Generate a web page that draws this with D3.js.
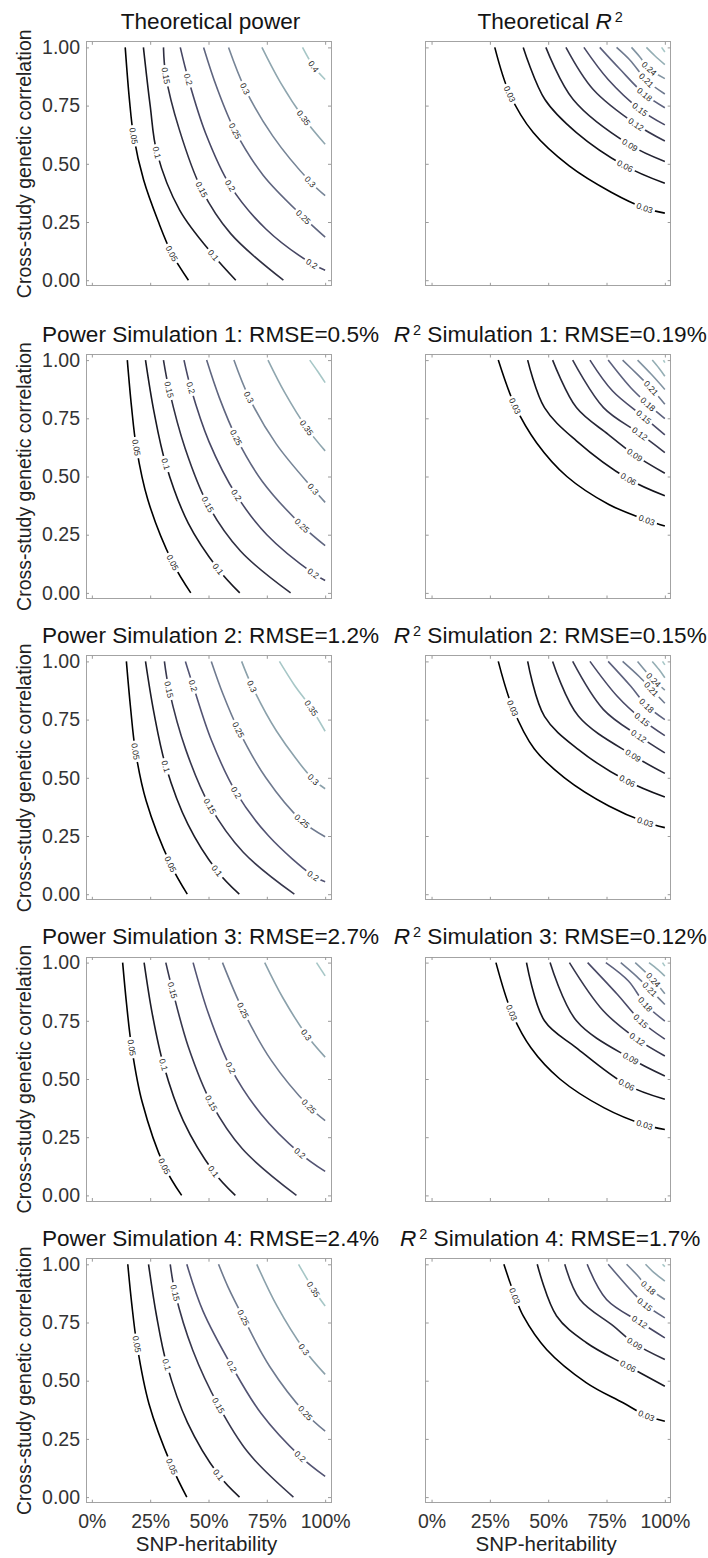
<!DOCTYPE html>
<html><head><meta charset="utf-8">
<script src="https://cdn.jsdelivr.net/npm/d3@7"></script>
<style>
body{margin:0;background:#fff}
text{font-family:"Liberation Sans",Arial,Helvetica,sans-serif;white-space:pre}
</style>
</head><body>
<svg id="chart" width="708" height="1558"></svg>
<script>
// ---------------- data ----------------
const h2Ticks = [0, 0.25, 0.5, 0.75, 1];
const h2TickLabels = ["0%", "25%", "50%", "75%", "100%"];
const rgTicks = [0, 0.25, 0.5, 0.75, 1];
const rgTickLabels = ["0.00", "0.25", "0.50", "0.75", "1.00"];
const xAxisTitle = "SNP-heritability";
const yAxisTitle = "Cross-study genetic correlation";
const powerTitles = ["Theoretical power", "Power Simulation 1: RMSE=0.5%", "Power Simulation 2: RMSE=1.2%",
  "Power Simulation 3: RMSE=2.7%", "Power Simulation 4: RMSE=2.4%"];
const r2Titles = ["Theoretical R^2", "R^2 Simulation 1: RMSE=0.19%", "R^2 Simulation 2: RMSE=0.15%",
  "R^2 Simulation 3: RMSE=0.12%", "R^2 Simulation 4: RMSE=1.7%"];

// contour lines: level, points [h2, rg] along the line, label anchors [h2, rg]
const powerTheory = [
  {level:0.05, pts:[[0.143,1],[0.161,0.776],[0.179,0.62],[0.222,0.43],[0.284,0.254],[0.343,0.114],[0.414,0]], lab:[[0.179,0.62],[0.343,0.114]]},
  {level:0.1, pts:[[0.221,1],[0.25,0.75],[0.279,0.548],[0.377,0.3],[0.521,0.107],[0.617,0]], lab:[[0.279,0.548],[0.521,0.107]]},
  {level:0.15, pts:[[0.307,1],[0.317,0.879],[0.374,0.65],[0.471,0.389],[0.595,0.2],[0.821,0]], lab:[[0.317,0.879],[0.471,0.389]]},
  {level:0.2, pts:[[0.379,1],[0.414,0.862],[0.488,0.63],[0.593,0.406],[0.746,0.22],[0.943,0.071],[1,0.043]], lab:[[0.414,0.862],[0.593,0.406],[0.943,0.071]]},
  {level:0.25, pts:[[0.479,1],[0.535,0.83],[0.614,0.641],[0.735,0.45],[0.907,0.271],[1,0.185]], lab:[[0.614,0.641],[0.907,0.271]]},
  {level:0.3, pts:[[0.586,1],[0.657,0.822],[0.775,0.62],[0.936,0.423],[1,0.363]], lab:[[0.657,0.822],[0.936,0.423]]},
  {level:0.35, pts:[[0.729,1],[0.808,0.85],[0.907,0.698],[1,0.584]], lab:[[0.907,0.698]]},
  {level:0.4, pts:[[0.903,1],[0.95,0.919],[1,0.862]], lab:[[0.95,0.919]]}
];
const powerSim1 = [
  {level:0.05, pts:[[0.152,1],[0.17,0.8],[0.191,0.624],[0.24,0.4],[0.346,0.131],[0.424,0]], lab:[[0.191,0.624],[0.346,0.131]]},
  {level:0.1, pts:[[0.23,1],[0.266,0.78],[0.317,0.553],[0.413,0.3],[0.541,0.103],[0.634,0]], lab:[[0.317,0.553],[0.541,0.103]]},
  {level:0.15, pts:[[0.307,1],[0.331,0.874],[0.4,0.62],[0.497,0.38],[0.637,0.18],[0.852,0]], lab:[[0.331,0.874],[0.497,0.38]]},
  {level:0.2, pts:[[0.395,1],[0.424,0.881],[0.502,0.65],[0.619,0.421],[0.75,0.25],[0.949,0.084],[1,0.053]], lab:[[0.424,0.881],[0.619,0.421],[0.949,0.084]]},
  {level:0.25, pts:[[0.492,1],[0.546,0.84],[0.619,0.667],[0.73,0.48],[0.901,0.289],[1,0.203]], lab:[[0.619,0.667],[0.901,0.289]]},
  {level:0.3, pts:[[0.609,1],[0.673,0.841],[0.79,0.64],[0.949,0.446],[1,0.389]], lab:[[0.673,0.841],[0.949,0.446]]},
  {level:0.35, pts:[[0.755,1],[0.827,0.86],[0.92,0.71],[1,0.61]], lab:[[0.92,0.71]]},
  {level:0.4, pts:[[0.934,1],[0.967,0.953],[1,0.903]], lab:[]}
];
const powerSim2 = [
  {level:0.05, pts:[[0.148,1],[0.166,0.8],[0.187,0.614],[0.233,0.4],[0.337,0.129],[0.409,0]], lab:[[0.187,0.614],[0.337,0.129]]},
  {level:0.1, pts:[[0.23,1],[0.266,0.78],[0.317,0.55],[0.412,0.3],[0.537,0.1],[0.632,0]], lab:[[0.317,0.55],[0.537,0.1]]},
  {level:0.15, pts:[[0.311,1],[0.331,0.879],[0.403,0.62],[0.506,0.379],[0.649,0.18],[0.868,0]], lab:[[0.331,0.879],[0.506,0.379]]},
  {level:0.2, pts:[[0.401,1],[0.434,0.896],[0.513,0.66],[0.619,0.436],[0.758,0.25],[0.949,0.079],[1,0.053]], lab:[[0.434,0.896],[0.619,0.436],[0.949,0.079]]},
  {level:0.25, pts:[[0.512,1],[0.562,0.86],[0.628,0.707],[0.746,0.5],[0.901,0.314],[1,0.247]], lab:[[0.628,0.707],[0.901,0.314]]},
  {level:0.3, pts:[[0.642,1],[0.687,0.893],[0.792,0.7],[0.949,0.493],[1,0.453]], lab:[[0.687,0.893],[0.949,0.493]]},
  {level:0.35, pts:[[0.804,1],[0.867,0.9],[0.94,0.8],[1,0.7]], lab:[[0.94,0.8]]}
];
const powerSim3 = [
  {level:0.05, pts:[[0.132,1],[0.149,0.82],[0.171,0.634],[0.216,0.4],[0.311,0.125],[0.385,0]], lab:[[0.171,0.634],[0.311,0.125]]},
  {level:0.1, pts:[[0.224,1],[0.259,0.78],[0.307,0.562],[0.392,0.32],[0.521,0.103],[0.615,0]], lab:[[0.307,0.562],[0.521,0.103]]},
  {level:0.15, pts:[[0.317,1],[0.346,0.881],[0.413,0.64],[0.512,0.397],[0.645,0.2],[0.877,0]], lab:[[0.346,0.881],[0.512,0.397]]},
  {level:0.2, pts:[[0.434,1],[0.5,0.78],[0.595,0.548],[0.725,0.35],[0.891,0.182],[1,0.103]], lab:[[0.595,0.548],[0.891,0.182]]},
  {level:0.25, pts:[[0.56,1],[0.648,0.795],[0.769,0.58],[0.93,0.383],[1,0.321]], lab:[[0.648,0.795],[0.93,0.383]]},
  {level:0.3, pts:[[0.741,1],[0.818,0.85],[0.92,0.689],[1,0.594]], lab:[[0.92,0.689]]},
  {level:0.35, pts:[[0.963,1],[1,0.943]], lab:[]}
];
const powerSim4 = [
  {level:0.05, pts:[[0.154,1],[0.171,0.83],[0.193,0.656],[0.245,0.4],[0.343,0.132],[0.407,0]], lab:[[0.193,0.656],[0.343,0.132]]},
  {level:0.1, pts:[[0.243,1],[0.277,0.78],[0.321,0.57],[0.41,0.32],[0.543,0.096],[0.633,0]], lab:[[0.321,0.57],[0.543,0.096]]},
  {level:0.15, pts:[[0.336,1],[0.357,0.878],[0.433,0.63],[0.543,0.393],[0.671,0.19],[0.864,0]], lab:[[0.357,0.878],[0.543,0.393]]},
  {level:0.2, pts:[[0.407,1],[0.476,0.8],[0.6,0.562],[0.725,0.36],[0.893,0.175],[1,0.089]], lab:[[0.6,0.562],[0.893,0.175]]},
  {level:0.25, pts:[[0.543,1],[0.585,0.9],[0.65,0.77],[0.763,0.56],[0.914,0.362],[1,0.283]], lab:[[0.65,0.77],[0.914,0.362]]},
  {level:0.3, pts:[[0.707,1],[0.794,0.82],[0.91,0.634],[1,0.527]], lab:[[0.91,0.634]]},
  {level:0.35, pts:[[0.886,1],[0.95,0.892],[1,0.821]], lab:[[0.95,0.892]]}
];
const r2Theory = [
  {level:0.03, pts:[[0.271,1],[0.335,0.8],[0.436,0.634],[0.59,0.491],[0.77,0.378],[0.914,0.31],[1,0.288]], lab:[[0.335,0.8],[0.914,0.31]]},
  {level:0.06, pts:[[0.393,1],[0.486,0.776],[0.621,0.634],[0.829,0.491],[1,0.416]], lab:[[0.829,0.491]]},
  {level:0.09, pts:[[0.49,1],[0.607,0.776],[0.85,0.581],[1,0.51]], lab:[[0.85,0.581]]},
  {level:0.12, pts:[[0.576,1],[0.693,0.819],[0.876,0.67],[1,0.598]], lab:[[0.876,0.67]]},
  {level:0.15, pts:[[0.653,1],[0.757,0.862],[0.893,0.734],[1,0.667]], lab:[[0.893,0.734]]},
  {level:0.18, pts:[[0.721,1],[0.807,0.907],[0.914,0.798],[1,0.741]], lab:[[0.914,0.798]]},
  {level:0.21, pts:[[0.793,1],[0.853,0.943],[0.921,0.859],[1,0.8]], lab:[[0.921,0.859]]},
  {level:0.24, pts:[[0.857,1],[0.893,0.959],[0.933,0.909],[1,0.866]], lab:[[0.933,0.909]]},
  {level:0.27, pts:[[0.921,1],[0.957,0.964],[1,0.926]], lab:[]},
  {level:0.3, pts:[[0.986,1],[1,0.98]], lab:[]}
];
const r2Sim1 = [
  {level:0.03, pts:[[0.286,1],[0.358,0.803],[0.45,0.645],[0.58,0.5],[0.76,0.38],[0.922,0.313],[1,0.287]], lab:[[0.358,0.803],[0.922,0.313]]},
  {level:0.06, pts:[[0.412,1],[0.484,0.796],[0.621,0.653],[0.844,0.489],[1,0.417]], lab:[[0.844,0.489]]},
  {level:0.09, pts:[[0.519,1],[0.621,0.796],[0.757,0.681],[0.87,0.593],[1,0.514]], lab:[[0.87,0.593]]},
  {level:0.12, pts:[[0.605,1],[0.737,0.796],[0.893,0.684],[1,0.603]], lab:[[0.893,0.684]]},
  {level:0.15, pts:[[0.679,1],[0.776,0.867],[0.909,0.756],[1,0.679]], lab:[[0.909,0.756]]},
  {level:0.18, pts:[[0.757,1],[0.854,0.881],[0.928,0.81],[1,0.749]], lab:[[0.928,0.81]]},
  {level:0.21, pts:[[0.819,1],[0.89,0.931],[0.942,0.879],[1,0.81]], lab:[[0.942,0.879]]},
  {level:0.24, pts:[[0.883,1],[0.942,0.939],[1,0.874]], lab:[]},
  {level:0.27, pts:[[0.946,1],[0.975,0.965],[1,0.931]], lab:[]},
  {level:0.3, pts:[[0.994,1],[1,0.989]], lab:[]}
];
const r2Sim2 = [
  {level:0.03, pts:[[0.286,1],[0.348,0.8],[0.44,0.625],[0.57,0.5],[0.76,0.379],[0.916,0.31],[1,0.286]], lab:[[0.348,0.8],[0.916,0.31]]},
  {level:0.06, pts:[[0.412,1],[0.484,0.764],[0.63,0.621],[0.839,0.486],[1,0.417]], lab:[[0.839,0.486]]},
  {level:0.09, pts:[[0.519,1],[0.63,0.764],[0.864,0.596],[1,0.519]], lab:[[0.864,0.596]]},
  {level:0.12, pts:[[0.605,1],[0.737,0.793],[0.889,0.679],[1,0.607]], lab:[[0.889,0.679]]},
  {level:0.15, pts:[[0.679,1],[0.796,0.85],[0.903,0.75],[1,0.681]], lab:[[0.903,0.75]]},
  {level:0.18, pts:[[0.757,1],[0.854,0.893],[0.922,0.81],[1,0.75]], lab:[[0.922,0.81]]},
  {level:0.21, pts:[[0.819,1],[0.89,0.935],[0.942,0.881],[1,0.82]], lab:[[0.942,0.881]]},
  {level:0.24, pts:[[0.883,1],[0.951,0.921],[1,0.877]], lab:[[0.951,0.921]]},
  {level:0.27, pts:[[0.946,1],[0.975,0.965],[1,0.93]], lab:[]},
  {level:0.3, pts:[[0.99,1],[1,0.985]], lab:[]}
];
const r2Sim3 = [
  {level:0.03, pts:[[0.276,1],[0.344,0.785],[0.426,0.634],[0.55,0.5],[0.74,0.376],[0.912,0.304],[1,0.283]], lab:[[0.344,0.785],[0.912,0.304]]},
  {level:0.06, pts:[[0.407,1],[0.484,0.75],[0.621,0.634],[0.835,0.476],[1,0.413]], lab:[[0.835,0.476]]},
  {level:0.09, pts:[[0.508,1],[0.621,0.75],[0.854,0.588],[1,0.513]], lab:[[0.854,0.588]]},
  {level:0.12, pts:[[0.591,1],[0.737,0.792],[0.883,0.67],[1,0.599]], lab:[[0.883,0.67]]},
  {level:0.15, pts:[[0.669,1],[0.796,0.864],[0.897,0.749],[1,0.671]], lab:[[0.897,0.749]]},
  {level:0.18, pts:[[0.747,1],[0.844,0.921],[0.916,0.821],[1,0.749]], lab:[[0.916,0.821]]},
  {level:0.21, pts:[[0.811,1],[0.88,0.94],[0.936,0.885],[1,0.82]], lab:[[0.936,0.885]]},
  {level:0.24, pts:[[0.873,1],[0.951,0.925],[1,0.866]], lab:[[0.951,0.925]]},
  {level:0.27, pts:[[0.932,1],[0.97,0.97],[1,0.942]], lab:[]},
  {level:0.3, pts:[[0.99,1],[1,0.985]], lab:[]}
];
const r2Sim4 = [
  {level:0.03, pts:[[0.31,1],[0.357,0.864],[0.393,0.778],[0.493,0.634],[0.664,0.491],[0.821,0.405],[0.921,0.35],[1,0.326]], lab:[[0.357,0.864],[0.921,0.35]]},
  {level:0.06, pts:[[0.453,1],[0.536,0.778],[0.664,0.663],[0.843,0.562],[1,0.476]], lab:[[0.843,0.562]]},
  {level:0.09, pts:[[0.571,1],[0.636,0.849],[0.779,0.735],[0.871,0.659],[1,0.591]], lab:[[0.871,0.659]]},
  {level:0.12, pts:[[0.667,1],[0.75,0.849],[0.893,0.752],[1,0.684]], lab:[[0.893,0.752]]},
  {level:0.15, pts:[[0.757,1],[0.864,0.878],[0.914,0.828],[1,0.77]], lab:[[0.914,0.828]]},
  {level:0.18, pts:[[0.836,1],[0.88,0.955],[0.929,0.9],[1,0.849]], lab:[[0.929,0.9]]},
  {level:0.21, pts:[[0.917,1],[0.955,0.963],[1,0.928]], lab:[]},
  {level:0.24, pts:[[0.99,1],[1,0.99]], lab:[]}
];
const powerPanels = [powerTheory, powerSim1, powerSim2, powerSim3, powerSim4];
const r2Panels = [r2Theory, r2Sim1, r2Sim2, r2Sim3, r2Sim4];

// ---------------- layout ----------------
const colX = [86, 425.7];
const rowY = [41.8, 354.5, 655.8, 957, 1258.7];
const W = 245, H = 244, padX = 5.85, padY = 5.6;

const svg = d3.select("#chart");
const defs = svg.append("defs");
const bone = d3.scaleLinear().domain([0, 0.365, 0.746, 1])
  .range(["#000000", "#515171", "#a6c6c6", "#ffffff"]).interpolate(d3.interpolateRgb);

const x = d3.scaleLinear().domain([0, 1]).range([padX, W - padX]);
const y = d3.scaleLinear().domain([0, 1]).range([H - padY, padY]);
const lineGen = d3.line().x(d => x(d[0])).y(d => y(d[1])).curve(d3.curveCatmullRom.alpha(0.5));

function titleText(sel, str) {
  const parts = str.split("R^2");
  if (parts.length === 1) { sel.text(str); return; }
  if (parts[0]) sel.append("tspan").text(parts[0]);
  sel.append("tspan").attr("font-style", "italic").text("R");
  sel.append("tspan").attr("dx", 3).attr("dy", -7).attr("font-size", 14.5).text("2");
  if (parts[1]) sel.append("tspan").attr("dy", 7).text(parts[1]);
}

let pid = 0;
function drawPanel(px, py, lines, title, isLeft, isBottom) {
  const g = svg.append("g").attr("transform", `translate(${px},${py})`);
  const id0 = pid++;

  // title
  const tt = svg.append("text").attr("x", px + W / 2 + 2).attr("y", py - 13)
    .attr("text-anchor", "middle").attr("font-size", 22.6).attr("fill", "#141414");
  titleText(tt, title);

  // frame
  g.append("rect").attr("x", 0).attr("y", 0).attr("width", W).attr("height", H)
    .attr("fill", "none").attr("stroke", "#a3a3a3").attr("stroke-width", 1)
    .attr("shape-rendering", "crispEdges");

  // inner ticks on all sides
  const tickCol = "#9a9a9a";
  const mk = (axis, tr) => {
    const a = g.append("g").attr("transform", tr).attr("color", tickCol)
      .call(axis.tickSize(-3).tickFormat(""));
    a.select(".domain").remove();
  };
  mk(d3.axisBottom(x).tickValues(h2Ticks), `translate(0,${H})`);
  mk(d3.axisTop(x).tickValues(h2Ticks), `translate(0,0)`);
  mk(d3.axisLeft(y).tickValues(rgTicks), `translate(0,0)`);
  mk(d3.axisRight(y).tickValues(rgTicks), `translate(${W},0)`);

  if (isLeft) {
    const a = g.append("g").attr("color", "#333")
      .call(d3.axisLeft(y).tickValues(rgTicks).tickSize(0).tickPadding(6)
        .tickFormat((d, i) => rgTickLabels[i]));
    a.select(".domain").remove();
    a.selectAll("text").attr("font-size", 19.5).attr("font-family", null);
    svg.append("text").attr("transform", `translate(31,${py + H / 2}) rotate(-90)`)
      .attr("text-anchor", "middle").attr("font-size", 19.5).attr("fill", "#222").text(yAxisTitle);
  }
  if (isBottom) {
    const a = g.append("g").attr("transform", `translate(0,${H})`).attr("color", "#333")
      .call(d3.axisBottom(x).tickValues(h2Ticks).tickSize(0).tickPadding(11)
        .tickFormat((d, i) => h2TickLabels[i]));
    a.select(".domain").remove();
    a.selectAll("text").attr("font-size", 19.5).attr("font-family", null);
    svg.append("text").attr("x", px + W / 2 - 2).attr("y", py + H + 48)
      .attr("text-anchor", "middle").attr("font-size", 20.5).attr("fill", "#222").text(xAxisTitle);
  }

  // contour lines
  const n = lines.length;
  lines.forEach((ln, i) => {
    const col = bone(n > 1 ? i / (n - 1) * 0.75 : 0);
    const mid = `mask${id0}_${i}`;
    const mask = defs.append("mask").attr("id", mid).attr("maskUnits", "userSpaceOnUse")
      .attr("x", -20).attr("y", -20).attr("width", W + 40).attr("height", H + 40);
    mask.append("rect").attr("x", -20).attr("y", -20).attr("width", W + 40).attr("height", H + 40).attr("fill", "#fff");
    const path = g.append("path").attr("d", lineGen(ln.pts)).attr("fill", "none")
      .attr("stroke", col).attr("stroke-width", 1.6).attr("mask", `url(#${mid})`);
    const node = path.node();
    const L = node.getTotalLength();
    ln.lab.forEach(p => {
      const tx = x(p[0]), ty = y(p[1]);
      let best = 0, bd = Infinity;
      for (let s = 0; s <= L; s += 0.5) {
        const q = node.getPointAtLength(s);
        const d = (q.x - tx) ** 2 + (q.y - ty) ** 2;
        if (d < bd) { bd = d; best = s; }
      }
      const a = node.getPointAtLength(Math.max(0, best - 4));
      const b = node.getPointAtLength(Math.min(L, best + 4));
      let dx = b.x - a.x, dy = b.y - a.y;
      if (dx < 0) { dx = -dx; dy = -dy; }
      const ang = Math.atan2(dy, dx) * 180 / Math.PI;
      const c = node.getPointAtLength(best);
      const tr = `translate(${c.x},${c.y}) rotate(${ang})`;
      const t = g.append("text").attr("transform", tr).attr("text-anchor", "middle")
        .attr("dy", "0.36em").attr("font-size", 8.5).attr("fill", "#1e1e1e").text(String(ln.level));
      const w = t.node().getComputedTextLength();
      mask.append("rect").attr("transform", tr).attr("x", -w / 2 - 2.5).attr("y", -4.5)
        .attr("width", w + 5).attr("height", 9).attr("fill", "#000");
    });
  });
}

for (let r = 0; r < 5; r++) {
  drawPanel(colX[0], rowY[r], powerPanels[r], powerTitles[r], true, r === 4);
  drawPanel(colX[1], rowY[r], r2Panels[r], r2Titles[r], false, r === 4);
}
</script>
</body></html>
